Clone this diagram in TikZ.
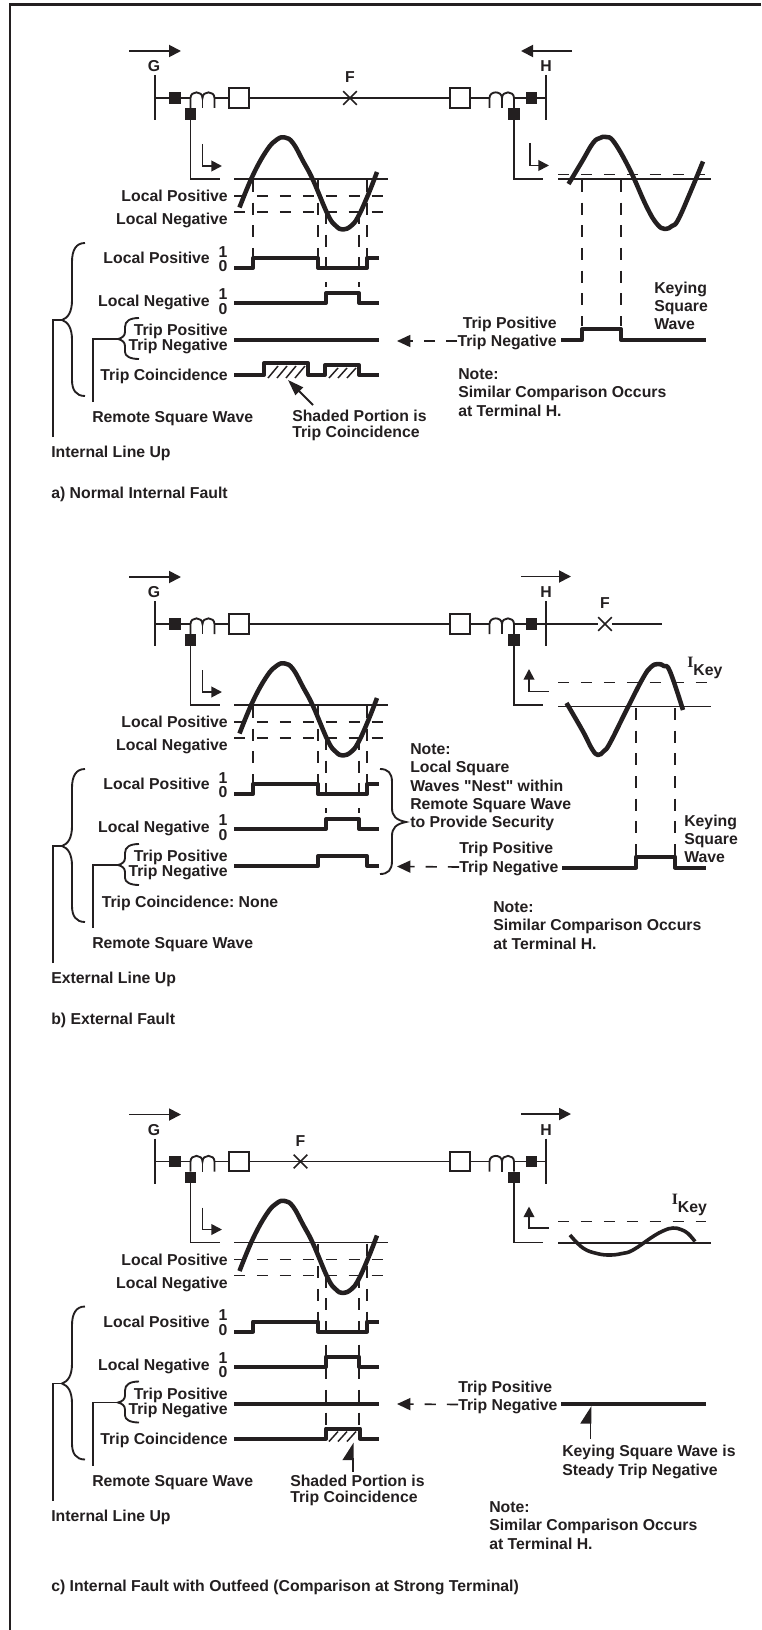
\documentclass[tikz,border=0pt]{standalone}
\usepackage{fontspec}
\setmainfont{Liberation Sans}
\newfontfamily\ikeyfont{Liberation Serif}
\newfontfamily\plainquote[Ligatures=ResetAll]{Liberation Sans}
\usetikzlibrary{arrows.meta,shapes.misc}
\definecolor{inkBlack}{RGB}{35, 31, 32}
\frenchspacing

\tikzset{
  thinline/.style={line width=1.4pt},
  waveline/.style={line width=3pt, line join=round},
  sineline/.style={line width=3.4pt, line join=round},
  hatchline/.style={line width=1.1pt},
  leveldash/.style={line width=1.2pt, dash pattern=on 8.6pt off 8.6pt},
  tracedash/.style={line width=1.2pt, dash pattern=on 9pt off 8pt},
  flowarrow/.style={line width=1.4pt, -{Triangle[length=9pt,width=9pt]}},
  smallarrow/.style={line width=1.4pt, -{Triangle[length=8pt,width=8pt]}},
  returnarrow/.style={line width=1.2pt, dash pattern=on 8.4pt off 8.2pt, -{Triangle[length=10pt,width=9pt]}},
  shadearrow/.style={line width=1.4pt, -{Triangle[length=12pt,width=8pt]}},
  halfarrow/.style={line width=1.4pt, -{Triangle[left,length=12pt,width=15pt]}},
  lbl/.style={font=\fontsize{11.85}{13.6}\selectfont\bfseries, inner sep=0pt, text height=8.4pt, text depth=0pt},
  blocktext/.style={font=\fontsize{11.85}{13.7}\selectfont\bfseries, inner sep=0pt, align=left, anchor=north west},
  breaker/.style={fill=inkBlack, inner sep=0pt, minimum size=8.5pt},
  cbbox/.style={draw, fill=white, line width=1.4pt, inner sep=0pt, minimum size=14.6pt},
  faultmark/.style={draw, cross out, line width=1.2pt, inner sep=0pt, minimum size=9pt}
}

% line, breakers and the two current transformers
\newcommand{\lineequipment}{
  \node[lbl] (gLabel) at (154,66) {G};
  \node[lbl] (hLabel) at (546,66) {H};
  \coordinate (gBus) at (155,98);
  \coordinate (hBus) at (546,98);
  \node[breaker] (gBrk) at (175,98) {};
  \node[breaker] (hBrk) at (531.5,98) {};
  \node[breaker] (gRelay) at (190.5,114) {};
  \node[breaker] (hRelay) at (514,114) {};
  \node[cbbox] (gCb) at (239,98) {};
  \node[cbbox] (hCb) at (460,98) {};
  \draw[thinline] (155,75) -- (155,120);
  \draw[thinline] (546,75) -- (546,120);
  \draw[thinline] (gBus) -- (gBrk) -- (190.5,98);
  \draw[thinline] (214.5,98) -- (gCb.west);
  \draw[thinline] (gCb.east) -- (hCb.west);
  \draw[thinline] (hCb.east) -- (489.5,98);
  \draw[thinline] (514,98) -- (hBrk) -- (hBus);
  \draw[thinline] (gRelay) -- (190.5,98) .. controls (190.5,90.5) and (202.5,90.5) .. (202.5,98) .. controls (202.5,90.5) and (214.5,90.5) .. (214.5,98) -- (214.5,108);
  \draw[thinline] (202.5,98) -- (202.5,108);
  \draw[thinline] (hRelay) -- (514,98) .. controls (514,90.5) and (502,90.5) .. (502,98) .. controls (502,90.5) and (489.5,90.5) .. (489.5,98) -- (489.5,108);
  \draw[thinline] (502,98) -- (502,108);
  \draw[thinline] (gRelay) -- (190.5,179) -- (220,179);
  \draw[thinline] (hRelay) -- (514,179) -- (543,179);
  \draw[flowarrow] (129,51) -- (181,51);
  \draw[smallarrow] (202.5,144) -- (202.5,166) -- (222,166);
}

% local waveform and all the labels at the left
\newcommand{\localside}{
  \draw[thinline] (234,179) -- (388,179);
  \draw[leveldash] (234,196) -- (383,196);
  \draw[leveldash] (234,212) -- (383,212);
  \foreach \xpos/\ytop/\ybot in {318/180/268, 367/180/258, 326/212/268, 359/212/268}
    \draw[tracedash] (\xpos,\ytop) -- (\xpos,\ybot);
  \draw[sineline] plot[smooth, tension=.7] coordinates {(239.5,207.5) (253,175) (267,150) (277,139.5) (285,137.5) (293,143) (303,161) (313,180) (328,215) (336,226) (343,229.5) (351,226) (358,217) (368,195) (377,172)};
  \node[lbl, anchor=east] (lpLevel) at (228,196) {Local Positive};
  \node[lbl, anchor=east] (lnLevel) at (228,219) {Local Negative};
  \node[lbl, anchor=east] (lpWave) at (210,258) {Local Positive};
  \node[lbl] (lpOne) at (223,251.5) {1};
  \node[lbl] (lpZero) at (223,266) {0};
  \node[lbl, anchor=east] (lnWave) at (210,301) {Local Negative};
  \node[lbl] (lnOne) at (223,294) {1};
  \node[lbl] (lnZero) at (223,308.5) {0};
  \node[lbl, anchor=east] (tripPos) at (228,330) {Trip Positive};
  \node[lbl, anchor=east] (tripNeg) at (228,345) {Trip Negative};
  \node[lbl, anchor=west] (remoteWave) at (92,417) {Remote Square Wave};
  \draw[waveline] (234,268) -- (253,268) -- (253,258) -- (318,258) -- (318,268) -- (367,268) -- (367,258) -- (379,258);
  \draw[waveline] (234,303) -- (326,303) -- (326,293) -- (359,293) -- (359,303) -- (379,303);
  % the two braces
  \coordinate (bigTip) at (62,320);
  \coordinate (bigEnd) at (53,437);
  \coordinate (smallTip) at (118,339);
  \coordinate (smallEnd) at (93,402);
  \draw[thinline] (85,243) .. controls (76,243) and (72,250) .. (72,262) -- (72,300) .. controls (72,312) and (68,318) .. (bigTip) .. controls (68,322) and (72,328) .. (72,340) -- (72,380) .. controls (72,390) and (76,396) .. (85,396);
  \draw[thinline] (139,318) .. controls (130,318) and (125,321) .. (125,327) -- (125,332) .. controls (125,336) and (122,338) .. (smallTip) .. controls (122,340) and (125,342) .. (125,346) -- (125,352) .. controls (125,356) and (130,359) .. (139,359);
  \draw[thinline] (bigEnd) |- (bigTip);
  \draw[thinline] (smallEnd) |- (smallTip);
}

\begin{document}
\begin{tikzpicture}[x=0.75pt, y=-0.75pt, color=inkBlack]
  \useasboundingbox (0,0) rectangle (761,1630);
  \draw[line width=1.9pt] (761,4.5) -- (10,4.5) -- (10,1630);

  % a) Normal Internal Fault
  \begin{scope}[name prefix=a-]
  \lineequipment
  \localside
  \node[faultmark] (fault) at (350,98) {};
  \node[lbl] (faultLabel) at (350,77) {F};
  \draw[flowarrow] (572,51) -- (521,51);
  \draw[smallarrow] (530,143) -- (530,165.5) -- (549,165.5);
  \draw[thinline] (558,179) -- (711,179);
  \draw[leveldash] (558,174.5) -- (705,174.5);
  \foreach \xpos in {582,621}
    \draw[tracedash] (\xpos,180) -- (\xpos,326);
  \draw[sineline] plot[smooth, tension=.7] coordinates {(568.5,184) (582,161.5) (593,143) (600,138) (606,137) (614,142) (630,170) (646.5,206.5) (657,224) (665,229) (672,226) (678,220) (690,193) (703,161.5)};
  \draw[waveline] (234,340) -- (379,340);
  \draw[waveline] (234,375) -- (264,375) -- (264,363) -- (308,363) -- (308,375) -- (325,375) -- (325,365) -- (359,365) -- (359,375) -- (379,375);
  \draw[waveline] (561,340) -- (582,340) -- (582,329) -- (621,329) -- (621,340) -- (706,340);
  \foreach \xpos in {268,277,286,295}
    \draw[hatchline] (\xpos,378) -- (\xpos+10,366);
  \foreach \xpos in {329,338,347}
    \draw[hatchline] (\xpos,378) -- (\xpos+9,368);
  \foreach \xpos in {253}
    \draw[tracedash] (\xpos,180) -- (\xpos,258);
  \foreach \xpos in {326,359}
    \draw[line width=1.2pt] (\xpos,282) -- (\xpos,287);
  \node[lbl, anchor=east] (coinLabel) at (228,375) {Trip Coincidence};
  \node[lbl, anchor=west] (lineUp) at (51,452) {Internal Line Up};
  \node[lbl, anchor=west] (caption) at (51,492.5) {a) Normal Internal Fault};
  \node[blocktext, font=\fontsize{11.85}{12}\selectfont\bfseries] (shaded) at (292,409.5) {Shaded Portion is\\Trip Coincidence};
  \coordinate (shadedTip) at (288,380);
  \coordinate (shadedStart) at (313,405);
  \draw[shadearrow] (shadedStart) -- (shadedTip);
  \node[lbl, anchor=east] (tripPosRem) at (557,323) {Trip Positive};
  \node[lbl, anchor=east] (tripNegRem) at (557,341) {Trip Negative};
  \coordinate (returnTip) at (397,341);
  \draw[returnarrow] (tripNegRem.west) -- (returnTip);
  \node[blocktext] (keying) at (654,281.5) {Keying\\Square\\Wave};
  \node[blocktext] (note) at (458,368.5) {Note:\\Similar Comparison Occurs\\at Terminal H.};
  \end{scope}

  % b) External Fault
  \begin{scope}[shift={(0,526)}, name prefix=b-]
  \lineequipment
  \localside
  \coordinate (lineEnd) at (662,98);
  \node[faultmark] (fault) at (605,98) {};
  \node[lbl] (faultLabel) at (605,77) {F};
  \draw[thinline] (hBus) -- (fault) -- (lineEnd);
  \draw[flowarrow] (521,50.5) -- (571,50.5);
  \draw[smallarrow] (549,165.5) -- (529,165.5) -- (529,143);
  \draw[thinline] (558,180.5) -- (711,180.5);
  \draw[leveldash] (558,156.5) -- (707,156.5);
  \foreach \xpos in {636,675}
    \draw[tracedash] (\xpos,182) -- (\xpos,331);
  \draw[sineline] plot[smooth, tension=.7] coordinates {(566.5,177) (583,205.5) (592,223) (598,229) (604,225) (610,217) (626.5,184) (643,152) (651,141) (658,138) (664,140) (670,145.5) (683,184)};
  \draw[waveline] (234,340) -- (318,340) -- (318,330) -- (367,330) -- (367,340) -- (379,340);
  \draw[waveline] (562,341.5) -- (636,341.5) -- (636,330.5) -- (675,330.5) -- (675,341.5) -- (706,341.5);
  \foreach \xpos in {253}
    \draw[tracedash] (\xpos,180) -- (\xpos,258);
  \foreach \xpos in {326,359}
    \draw[line width=1.2pt] (\xpos,282) -- (\xpos,287);
  \node[lbl, anchor=west] (coinLabel) at (101.5,375.5) {Trip Coincidence: None};
  \node[lbl, anchor=west] (lineUp) at (51,452) {External Line Up};
  \node[lbl, anchor=west] (caption) at (51,492.5) {b) External Fault};
  \node[lbl, anchor=west] (ikey) at (687,136) {{\ikeyfont I}\raisebox{-6pt}{Key}};
  \node[lbl, anchor=west] (tripPosRem) at (459,322) {Trip Positive};
  \node[lbl, anchor=west] (tripNegRem) at (459,341) {Trip Negative};
  \coordinate (returnTip) at (397,340.5);
  \draw[returnarrow] (tripNegRem.west) -- (returnTip);
  \coordinate (nestTip) at (406,296);
  \draw[thinline] (380,243) .. controls (388,243) and (392,247) .. (392,256) -- (392,282) .. controls (392,290) and (396,294) .. (nestTip) .. controls (396,298) and (392,302) .. (392,310) -- (392,335) .. controls (392,344) and (388,348) .. (380,348);
  \node[blocktext] (nest) at (410,217.5) {Note:\\Local Square\\Waves {\plainquote "}Nest{\plainquote "} within\\Remote Square Wave\\to Provide Security};
  \node[blocktext] (keying) at (684,288.5) {Keying\\Square\\Wave};
  \node[blocktext] (note) at (493,375.5) {Note:\\Similar Comparison Occurs\\at Terminal H.};
  \end{scope}

  % c) Internal Fault with Outfeed
  \begin{scope}[shift={(0,1063.5)}, name prefix=c-]
  \lineequipment
  \localside
  \node[faultmark] (fault) at (300.5,98) {};
  \node[lbl] (faultLabel) at (300.5,77) {F};
  \draw[flowarrow] (521,50.5) -- (571,50.5);
  \draw[smallarrow] (549,164.5) -- (529,164.5) -- (529,143);
  \draw[thinline] (558,179.5) -- (711,179.5);
  \draw[leveldash] (558,158) -- (706,158);
  \draw[line width=2.7pt, line join=round] plot[smooth, tension=.7] coordinates {(570,171.5) (583,184.5) (597,190) (610,191.5) (622,190) (633,186.5) (653,173) (664,167) (673,164.5) (681,166) (688,170) (695,178)};
  \foreach \xpos in {326,359}
    \draw[tracedash] (\xpos,281) -- (\xpos,362);
  \draw[waveline] (234,340.5) -- (379,340.5);
  \draw[waveline] (234,375) -- (326,375) -- (326,365) -- (360,365) -- (360,375) -- (379,375);
  \draw[waveline] (561,340.5) -- (706,340.5);
  \foreach \xpos in {329,338,347}
    \draw[hatchline] (\xpos,378) -- (\xpos+9,368);
  \node[lbl, anchor=east] (coinLabel) at (228,375) {Trip Coincidence};
  \node[lbl, anchor=west] (lineUp) at (51,452) {Internal Line Up};
  \node[lbl, anchor=west] (caption) at (51,522.5) {c) Internal Fault with Outfeed (Comparison at Strong Terminal)};
  \node[lbl, anchor=west] (ikey) at (671.5,135) {{\ikeyfont I}\raisebox{-6pt}{Key}};
  \node[blocktext, font=\fontsize{11.85}{12}\selectfont\bfseries] (shaded) at (290,411.5) {Shaded Portion is\\Trip Coincidence};
  \coordinate (shadedTip) at (352.7,379);
  \coordinate (shadedStart) at (352.7,408);
  \draw[halfarrow] (shadedStart) -- (shadedTip);
  \node[lbl, anchor=west] (tripPosRem) at (458,323) {Trip Positive};
  \node[lbl, anchor=west] (tripNegRem) at (458,341) {Trip Negative};
  \coordinate (returnTip) at (397,340.5);
  \draw[returnarrow] (tripNegRem.west) -- (returnTip);
  \node[blocktext] (steady) at (562,381.5) {Keying Square Wave is\\Steady Trip Negative};
  \coordinate (steadyTip) at (590.5,342.5);
  \coordinate (steadyStart) at (590.5,375.5);
  \draw[halfarrow] (steadyStart) -- (steadyTip);
  \node[blocktext] (note) at (489,438) {Note:\\Similar Comparison Occurs\\at Terminal H.};
  \end{scope}
\end{tikzpicture}
\end{document}
